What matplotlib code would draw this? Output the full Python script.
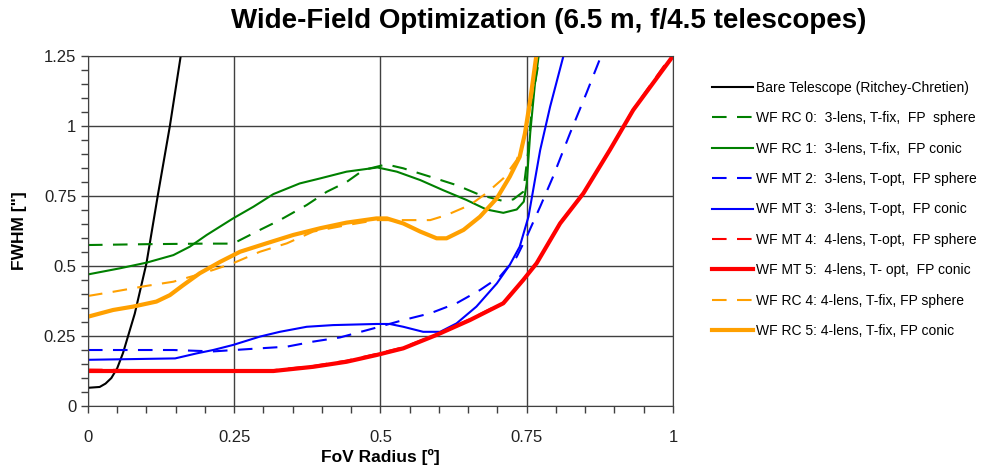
import matplotlib
matplotlib.use("Agg")
import matplotlib.pyplot as plt
from matplotlib.ticker import MultipleLocator

plt.rcParams['font.family'] = ['Liberation Sans', 'DejaVu Sans']

# FWHM vs field radius for each corrector design
bare_x = [0, 0.02, 0.03, 0.04, 0.05, 0.06, 0.08, 0.10, 0.12, 0.14, 0.16]
bare_y = [0.065, 0.068, 0.08, 0.10, 0.135, 0.19, 0.33, 0.51, 0.76, 1.0, 1.27]

rc0_x = [0, 0.10, 0.20, 0.248, 0.294, 0.328, 0.374, 0.408, 0.442, 0.471, 0.51,
         0.539, 0.585, 0.63, 0.67, 0.71, 0.727, 0.744, 0.752, 0.76, 0.773]
rc0_y = [0.575, 0.578, 0.58, 0.58, 0.629, 0.664, 0.718, 0.765, 0.80, 0.843, 0.863,
         0.849, 0.819, 0.789, 0.754, 0.732, 0.738, 0.765, 0.90, 1.10, 1.26]

rc1_x = [0, 0.055, 0.10, 0.146, 0.174, 0.203, 0.248, 0.283, 0.317, 0.362, 0.397,
         0.442, 0.495, 0.528, 0.568, 0.607, 0.647, 0.681, 0.71, 0.733, 0.745,
         0.75, 0.756, 0.764, 0.771]
rc1_y = [0.47, 0.492, 0.512, 0.539, 0.569, 0.611, 0.67, 0.712, 0.757, 0.795, 0.813,
         0.837, 0.852, 0.837, 0.807, 0.771, 0.736, 0.702, 0.69, 0.702, 0.73,
         0.795, 0.975, 1.15, 1.26]

mt2_x = [0, 0.146, 0.214, 0.294, 0.34, 0.385, 0.431, 0.493, 0.539, 0.585, 0.63,
         0.67, 0.704, 0.733, 0.75, 0.773, 0.795, 0.824, 0.852, 0.879]
mt2_y = [0.20, 0.20, 0.195, 0.206, 0.212, 0.23, 0.245, 0.28, 0.307, 0.331, 0.367,
         0.414, 0.462, 0.533, 0.605, 0.712, 0.819, 0.974, 1.117, 1.26]

mt3_x = [0, 0.149, 0.186, 0.214, 0.248, 0.294, 0.328, 0.374, 0.419, 0.493, 0.516,
         0.539, 0.573, 0.602, 0.63, 0.664, 0.699, 0.721, 0.738, 0.753, 0.761,
         0.773, 0.79, 0.814]
mt3_y = [0.165, 0.17, 0.188, 0.20, 0.218, 0.248, 0.265, 0.283, 0.289, 0.293, 0.293,
         0.283, 0.265, 0.265, 0.295, 0.355, 0.438, 0.504, 0.569, 0.676, 0.771,
         0.914, 1.069, 1.26]

mt4_x = [0, 0.10, 0.20, 0.317, 0.385, 0.442, 0.493, 0.539, 0.596, 0.653, 0.71,
         0.744, 0.767, 0.807, 0.847, 0.892, 0.932, 1.0]
mt4_y = [0.13, 0.128, 0.127, 0.128, 0.143, 0.162, 0.186, 0.21, 0.256, 0.31, 0.37,
         0.452, 0.512, 0.655, 0.762, 0.916, 1.06, 1.26]

mt5_x = [0, 0.10, 0.20, 0.317, 0.385, 0.442, 0.493, 0.539, 0.596, 0.653, 0.71,
         0.744, 0.767, 0.807, 0.847, 0.892, 0.932, 1.0]
mt5_y = [0.125, 0.125, 0.125, 0.125, 0.14, 0.158, 0.182, 0.206, 0.254, 0.307, 0.367,
         0.45, 0.51, 0.652, 0.76, 0.914, 1.057, 1.25]

rc4_x = [0, 0.043, 0.10, 0.146, 0.186, 0.214, 0.248, 0.294, 0.34, 0.385, 0.442,
         0.493, 0.55, 0.585, 0.613, 0.653, 0.681, 0.71, 0.733, 0.748, 0.758, 0.768]
rc4_y = [0.393, 0.408, 0.429, 0.444, 0.468, 0.486, 0.51, 0.551, 0.581, 0.623, 0.646,
         0.664, 0.664, 0.664, 0.682, 0.718, 0.76, 0.813, 0.879, 0.97, 1.09, 1.26]

rc5_x = [0, 0.043, 0.077, 0.117, 0.14, 0.163, 0.191, 0.226, 0.26, 0.305, 0.351,
         0.397, 0.442, 0.493, 0.511, 0.539, 0.568, 0.596, 0.613, 0.642, 0.67,
         0.699, 0.721, 0.738, 0.747, 0.756, 0.767]
rc5_y = [0.319, 0.343, 0.355, 0.373, 0.396, 0.432, 0.474, 0.515, 0.551, 0.581, 0.611,
         0.635, 0.655, 0.67, 0.67, 0.652, 0.623, 0.599, 0.599, 0.629, 0.676,
         0.742, 0.819, 0.89, 0.974, 1.093, 1.26]

labels = ["Bare Telescope (Ritchey-Chretien)",
          "WF RC 0:  3-lens, T-fix,  FP  sphere",
          "WF RC 1:  3-lens, T-fix,  FP conic",
          "WF MT 2:  3-lens, T-opt,  FP sphere",
          "WF MT 3:  3-lens, T-opt,  FP conic",
          "WF MT 4:  4-lens, T-opt,  FP sphere",
          "WF MT 5:  4-lens, T- opt,  FP conic",
          "WF RC 4: 4-lens, T-fix, FP sphere",
          "WF RC 5: 4-lens, T-fix, FP conic"]

green = "#008000"
blue = "#0000ff"
red = "#ff0000"
orange = "#ffa000"
dash = (0, (7, 5))

fig = plt.figure(figsize=(9.84, 4.71), dpi=100)
ax = fig.add_axes([0.0894, 0.138, 0.5945, 0.743])

ax.plot(bare_x, bare_y, color="black", lw=1.5, label=labels[0])
ax.plot(rc0_x, rc0_y, color=green, lw=1.5, ls=dash, label=labels[1])
ax.plot(rc1_x, rc1_y, color=green, lw=1.5, label=labels[2])
ax.plot(mt2_x, mt2_y, color=blue, lw=1.5, ls=dash, label=labels[3])
ax.plot(mt3_x, mt3_y, color=blue, lw=1.5, label=labels[4])
ax.plot(mt4_x, mt4_y, color=red, lw=1.5, ls=dash, label=labels[5])
ax.plot(mt5_x, mt5_y, color=red, lw=3, label=labels[6])
ax.plot(rc4_x, rc4_y, color=orange, lw=1.5, ls=dash, label=labels[7])
ax.plot(rc5_x, rc5_y, color=orange, lw=3, label=labels[8])

ax.set_xlim(0, 1)
ax.set_ylim(0, 1.25)
ax.xaxis.set_major_locator(MultipleLocator(0.25))
ax.yaxis.set_major_locator(MultipleLocator(0.25))
ax.xaxis.set_minor_locator(MultipleLocator(0.05))
ax.yaxis.set_minor_locator(MultipleLocator(0.05))
fmt = lambda v, pos: ("%g" % v)
ax.xaxis.set_major_formatter(fmt)
ax.yaxis.set_major_formatter(fmt)
ax.tick_params(which="both", direction="out", length=5, width=1, color="#404040",
               labelsize=12, labelcolor="#222222")
ax.tick_params(axis="x", pad=12)
ax.grid(True, which="major", color="#404040", lw=1)
ax.set_axisbelow(True)
for s in ax.spines.values():
    s.set_color("#404040")

ax.set_xlabel("FoV Radius [º]", fontsize=12.5, fontweight="bold", labelpad=3)
ax.set_ylabel("FWHM [\"]", fontsize=12.5, fontweight="bold", labelpad=12)
fig.suptitle("Wide-Field Optimization (6.5 m, f/4.5 telescopes)", fontsize=20,
             fontweight="bold", x=0.558, y=0.982)

ax.legend(loc="upper left", bbox_to_anchor=(1.058, 0.945), frameon=False,
          fontsize=10, handlelength=2.9, handletextpad=0.25, labelspacing=1.18,
          borderaxespad=0)

fig.savefig("out.png", dpi=100)
